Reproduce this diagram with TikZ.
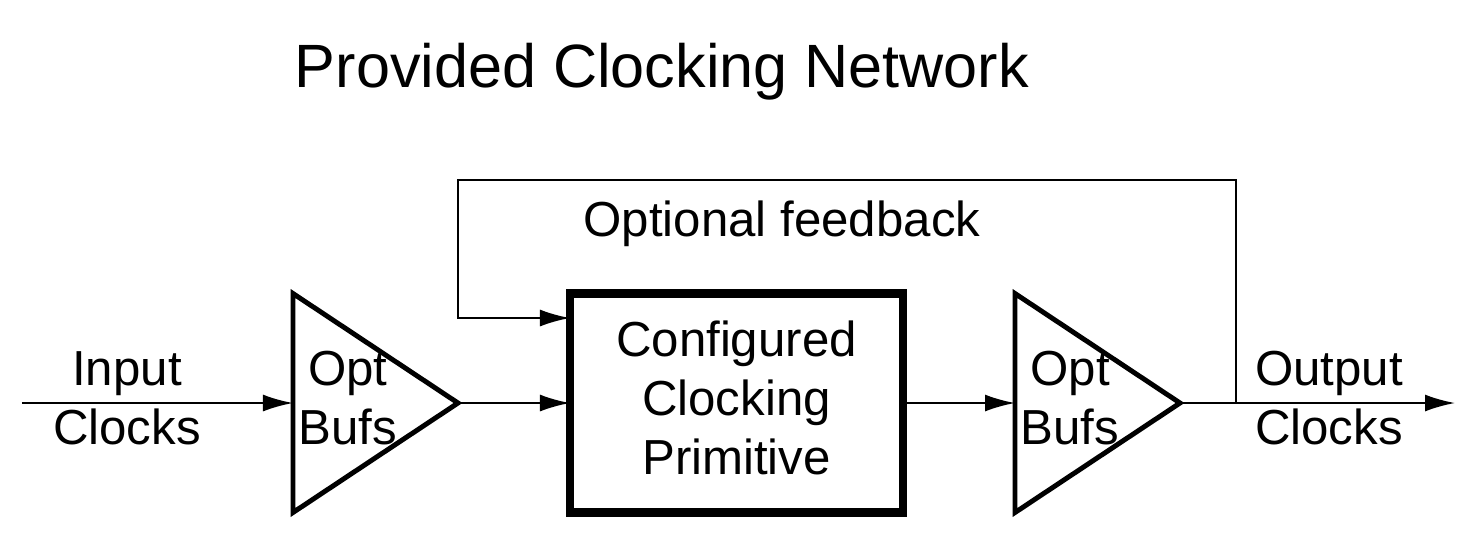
\documentclass[tikz,border=0pt]{standalone}
\usepackage{fontspec}
\setmainfont{Liberation Sans}
\usetikzlibrary{arrows.meta,positioning,shapes.geometric}
\tikzset{
  prim/.style={draw,line width=2.3pt,minimum width=33.3mm,minimum height=21.9mm,
    inner sep=0pt,outer sep=0pt},
  buf/.style={draw,isosceles triangle,isosceles triangle stretches,line width=1.4pt,
    minimum width=21.9mm,minimum height=16.5mm,inner sep=0pt,outer sep=0pt},
  lbl/.style={align=center,inner sep=0pt,font=\fontsize{14}{16.8}\selectfont},
  ttl/.style={inner sep=0pt,font=\fontsize{17.4}{20}\selectfont},
  flow/.style={-{Latex[length=3mm,width=1.7mm]},line width=0.6pt},
}
\begin{document}
\begin{tikzpicture}[x=1mm,y=1mm]
  \useasboundingbox (0,0) rectangle (148,-55.6);
  % title
  \node[ttl] (title) at (66.2,-7.2) {Provided Clocking Network};
  % blocks
  \node[prim] (prim) at (73.65,-40.3) {};
  \node[buf,left=11.2mm of prim] (bufin) {};
  \node[buf,right=11.2mm of prim] (bufout) {};
  \node[lbl] (primtxt) at ([yshift=0.5mm]prim.center) {Configured\\Clocking\\Primitive};
  \node[lbl] (bufintxt) at ([xshift=5.5mm,yshift=0.5mm]bufin.lower side) {Opt\\Bufs};
  \node[lbl] (bufouttxt) at ([xshift=5.5mm,yshift=0.5mm]bufout.lower side) {Opt\\Bufs};
  % ends of the clock path
  \coordinate (clkin) at (2.2,-40.3);
  \coordinate (clkout) at (145.5,-40.3);
  \coordinate (tap) at (123.6,-40.3);
  \coordinate (fbtop) at (45.8,-18);
  \node[lbl] (intxt) at (12.7,-39.8) {Input\\Clocks};
  \node[lbl] (outtxt) at (132.9,-39.8) {Output\\Clocks};
  \node[lbl] (fbtxt) at (78.2,-22.4) {Optional feedback};
  % connections
  \draw[flow] (clkin) -- (bufin.lower side);
  \draw[flow] (bufin.apex) -- (prim.west);
  \draw[flow] (prim.east) -- (bufout.lower side);
  \draw[flow] (bufout.apex) -- (clkout);
  \draw[flow] (tap) |- (fbtop) |- ([yshift=8.5mm]prim.west);
\end{tikzpicture}
\end{document}
